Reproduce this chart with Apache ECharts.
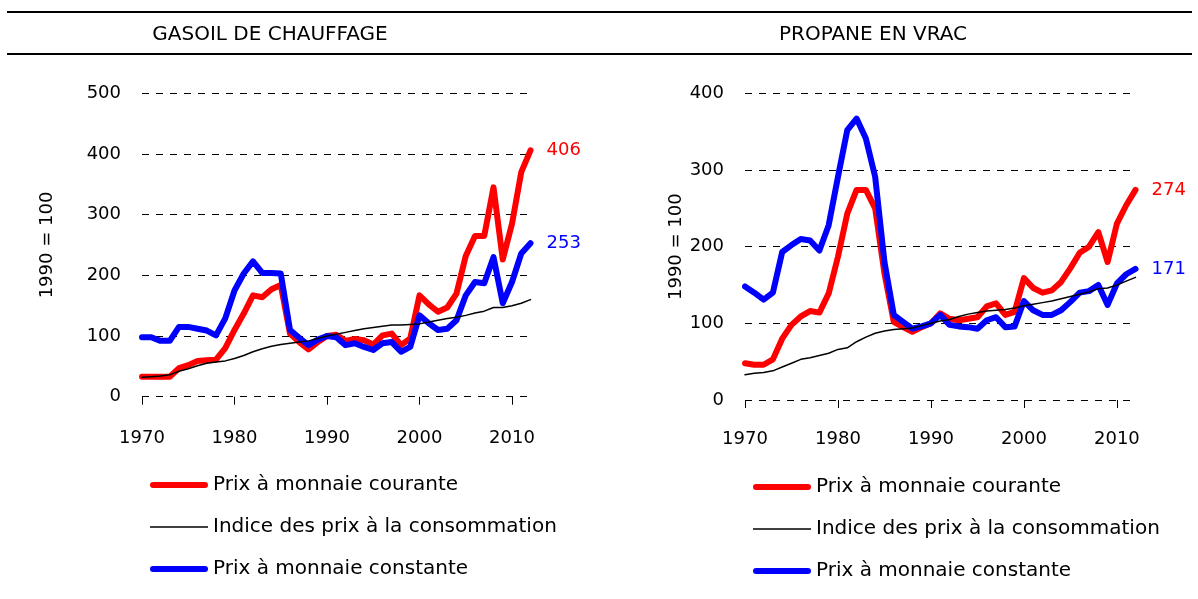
<!DOCTYPE html>
<html>
<head>
<meta charset="utf-8">
<script src="https://cdn.jsdelivr.net/npm/echarts@6/dist/echarts.min.js"></script>
<style>
  html, body { margin: 0; padding: 0; background: #fff; }
  #chart { width: 1198px; height: 599px; }
</style>
</head>
<body>
<div id="chart"></div>
<script>
// années
var years = [1970, 1971, 1972, 1973, 1974, 1975, 1976, 1977, 1978, 1979,
  1980, 1981, 1982, 1983, 1984, 1985, 1986, 1987, 1988, 1989,
  1990, 1991, 1992, 1993, 1994, 1995, 1996, 1997, 1998, 1999,
  2000, 2001, 2002, 2003, 2004, 2005, 2006, 2007, 2008, 2009,
  2010, 2011, 2012]

// gasoil de chauffage (1990 = 100)
var gasoilCourant = [33, 33, 33, 33, 47, 52, 59, 60, 61, 80,
  110, 137, 167, 164, 177, 184, 104, 90, 78, 90,
  100, 102, 92, 95, 93, 86, 101, 104, 85, 96,
  167, 152, 140, 147, 170, 232, 265, 265, 345, 226,
  285, 370, 406]
var gasoilIpc = [32, 33, 34, 36, 42, 46, 51, 55, 57, 59,
  63, 68, 74, 79, 83, 86, 88, 90, 92, 96,
  100, 103, 106, 109, 112, 114, 116, 118, 118, 119,
  120, 123, 126, 129, 131, 134, 138, 141, 147, 147,
  150, 154, 160]
var gasoilConstant = [98, 98, 92, 92, 115, 115, 112, 109, 101, 129,
  175, 203, 223, 204, 204, 203, 110, 97, 85, 94,
  100, 98, 85, 88, 82, 77, 88, 90, 74, 82,
  134, 121, 110, 112, 126, 167, 189, 187, 230, 154,
  189, 236, 253]

// propane en vrac (1990 = 100)
var propaneCourant = [48, 46, 46, 53, 80, 98, 109, 116, 114, 139,
  187, 243, 274, 274, 250, 165, 102, 95, 89, 95,
  100, 113, 106, 104, 106, 108, 122, 126, 111, 115,
  159, 146, 140, 143, 154, 172, 192, 200, 219, 180,
  230, 254, 274]
var propaneIpc = [33, 35, 36, 38, 43, 48, 53, 55, 58, 61,
  66, 68, 76, 82, 87, 90, 92, 93, 94, 97,
  100, 103, 105, 109, 112, 114, 116, 117, 118, 120,
  123, 125, 127, 129, 132, 135, 138, 141, 145, 146,
  150, 155, 160]
var propaneConstant = [148, 140, 131, 140, 193, 202, 210, 208, 195, 228,
  291, 352, 367, 341, 291, 180, 111, 102, 93, 96,
  100, 111, 98, 96, 95, 93, 104, 108, 95, 96,
  129, 117, 111, 111, 117, 128, 140, 142, 150, 124,
  152, 164, 171]

var yTicksLeft = { min: 0, max: 500, interval: 100 }
var yTicksRight = { min: 0, max: 400, interval: 100 }

var seriesNames = ['Prix à monnaie courante', 'Indice des prix à la consommation', 'Prix à monnaie constante']

var FONT = 'DejaVu Sans'

// icônes de légende : trait épais arrondi / trait fin
var thickIcon = 'path://M3,0 L55,0 A3,3 0 0 1 55,6 L3,6 A3,3 0 0 1 3,0 Z'
var thinIcon = 'path://M0,0 L58,0 L58,1.5 L0,1.5 Z'

function isDecade(index, value) {
  return Number(value) % 10 === 0
}

function xAxisFor(gridIndex, labelMargin) {
  return {
    type: 'category',
    gridIndex: gridIndex,
    data: years,
    boundaryGap: false,
    axisLine: { show: false },
    axisTick: {
      show: true,
      interval: isDecade,
      length: 8,
      lineStyle: { color: '#000', width: 1 }
    },
    axisLabel: {
      interval: isDecade,
      margin: labelMargin,
      color: '#000',
      fontSize: 18,
      fontFamily: FONT
    },
    splitLine: { show: false }
  }
}

function yAxisFor(gridIndex, ticks, nameGap) {
  return {
    type: 'value',
    gridIndex: gridIndex,
    min: ticks.min,
    max: ticks.max,
    interval: ticks.interval,
    name: '1990 = 100',
    nameLocation: 'middle',
    nameRotate: 90,
    nameGap: nameGap,
    nameTextStyle: { color: '#000', fontSize: 18, fontFamily: FONT },
    axisLine: { show: false },
    axisTick: { show: false },
    axisLabel: { margin: 21, color: '#000', fontSize: 18, fontFamily: FONT },
    splitLine: {
      show: true,
      lineStyle: { color: '#000', width: 1, type: [7, 7] }
    }
  }
}

function lineSeries(name, idx, data, color, width, z, withLabel) {
  var s = {
    name: name,
    type: 'line',
    xAxisIndex: idx,
    yAxisIndex: idx,
    data: data,
    symbol: 'none',
    smooth: false,
    z: z,
    lineStyle: { color: color, width: width, cap: 'round', join: 'round' },
    itemStyle: { color: color },
    emphasis: { disabled: true }
  }
  if (withLabel) {
    s.endLabel = {
      show: true,
      distance: 16,
      color: color,
      fontSize: 18,
      fontFamily: FONT,
      formatter: function (p) { return p.value }
    }
  }
  return s
}

function legendAt(left, top) {
  return {
    data: [
      { name: seriesNames[0], icon: thickIcon },
      { name: seriesNames[1], icon: thinIcon },
      { name: seriesNames[2], icon: thickIcon }
    ],
    orient: 'vertical',
    left: left,
    top: top,
    padding: 0,
    itemWidth: 58,
    itemHeight: 20,
    itemGap: 22,
    symbolKeepAspect: true,
    selectedMode: false,
    itemStyle: { borderWidth: 0 },
    textStyle: { color: '#000', fontSize: 20, fontFamily: FONT }
  }
}

function hRule(y) {
  return {
    type: 'line',
    shape: { x1: 7, y1: y, x2: 1192, y2: y },
    style: { stroke: '#000', lineWidth: 2 }
  }
}

function heading(text, x) {
  return {
    type: 'text',
    x: x,
    y: 35,
    style: {
      text: text,
      fill: '#000',
      font: '20px "DejaVu Sans"',
      align: 'center',
      verticalAlign: 'middle',
      textAlign: 'center',
      textVerticalAlign: 'middle'
    }
  }
}

var chart = echarts.init(document.getElementById('chart'), null, { renderer: 'canvas' })

var option = {
  animation: false,
  backgroundColor: '#fff',
  textStyle: { fontFamily: FONT },
  graphic: [
    hRule(12),
    hRule(54),
    heading('GASOIL DE CHAUFFAGE', 270),
    heading('PROPANE EN VRAC', 873)
  ],
  legend: [legendAt(150, 475), legendAt(753, 477)],
  grid: [
    { left: 142, top: 93.3, width: 388.5, height: 303.4 },
    { left: 745, top: 93.3, width: 390.5, height: 306.7 }
  ],
  xAxis: [xAxisFor(0, 33), xAxisFor(1, 30)],
  yAxis: [yAxisFor(0, yTicksLeft, 86), yAxisFor(1, yTicksRight, 46)],
  series: [
    lineSeries(seriesNames[0], 0, gasoilCourant, '#ff0000', 6, 2, true),
    lineSeries(seriesNames[1], 0, gasoilIpc, '#000000', 1.5, 4, false),
    lineSeries(seriesNames[2], 0, gasoilConstant, '#0000ff', 6, 3, true),
    lineSeries(seriesNames[0], 1, propaneCourant, '#ff0000', 6, 2, true),
    lineSeries(seriesNames[1], 1, propaneIpc, '#000000', 1.5, 4, false),
    lineSeries(seriesNames[2], 1, propaneConstant, '#0000ff', 6, 3, true)
  ]
}

chart.setOption(option)
</script>
</body>
</html>
